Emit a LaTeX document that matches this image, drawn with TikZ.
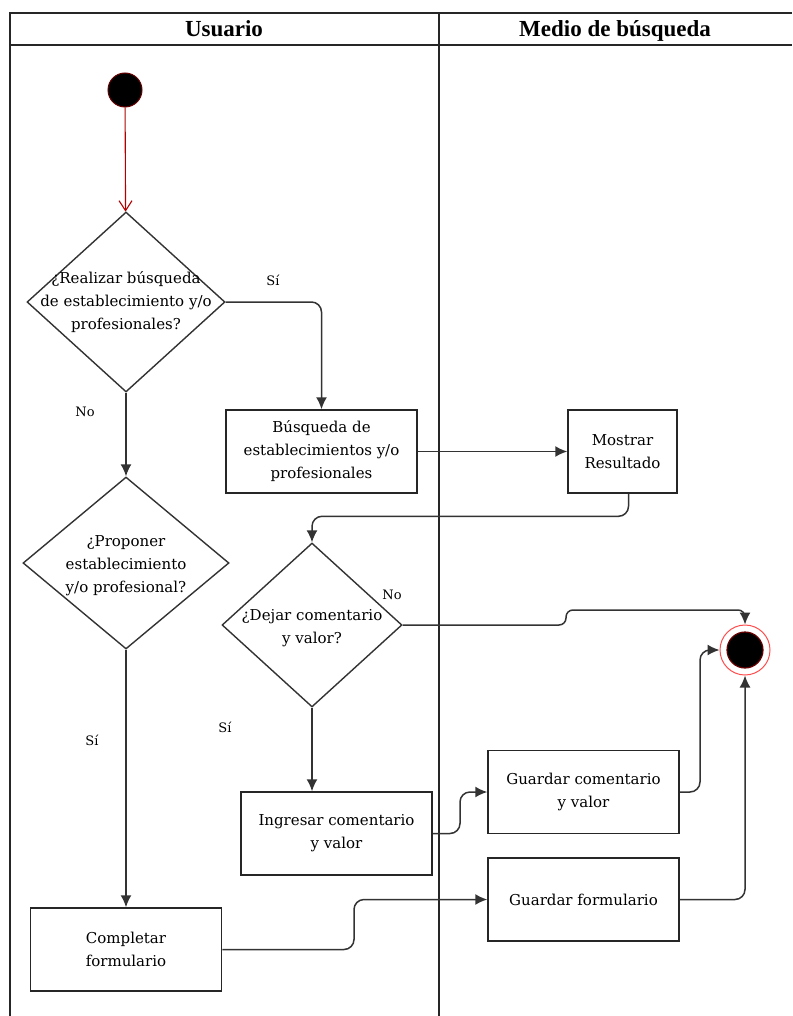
\documentclass[tikz,border=0pt]{standalone}
\usepackage{fontspec}
\setmainfont{DejaVu Serif}
\newfontfamily\headfont{Liberation Serif}
\usetikzlibrary{shapes.geometric,arrows.meta,calc}
\begin{document}
\begin{tikzpicture}[x=1pt,y=-1pt,
  lane/.style={line width=1.5pt,black!85},
  lanehead/.style={anchor=base,font=\headfont\bfseries\fontsize{23}{27}\selectfont},
  act/.style={draw=black!85,line width=1.5pt,rectangle,minimum width=191pt,minimum height=83pt,align=center,inner sep=2pt,font=\fontsize{15}{23}\selectfont},
  decision/.style={draw=black!80,line width=1.4pt,diamond,inner sep=0pt},
  qtext/.style={align=center,inner sep=0pt,font=\fontsize{15}{23}\selectfont},
  guard/.style={font=\fontsize{13}{15}\selectfont},
  flow/.style={draw=black!80,line width=1.5pt,rounded corners=10pt,-{Latex[length=12pt,width=11pt]}},
  startflow/.style={draw=red!70!black,line width=1.1pt,-{Straight Barb[length=10pt,width=13pt]}}
]
\useasboundingbox (0,0) rectangle (792,1016);
% lanes
\draw[lane] (792,13) -- (10,13) -- (10,1016);
\draw[lane] (10,45) -- (792,45);
\draw[lane] (439,13) -- (439,1016);
\node[lanehead] (usr) at (224,37) {Usuario};
\node[lanehead] (med) at (615,37) {Medio de búsqueda};
% start and end
\node[circle,fill=black,draw=red!40!black,line width=1pt,minimum size=34pt,inner sep=0pt] (start) at (125,90) {};
\node[circle,draw=red!70,line width=1pt,minimum size=50pt,inner sep=0pt] (end) at (745,650) {};
\node[circle,fill=black,draw=red!40!black,line width=1.2pt,minimum size=36pt,inner sep=0pt] (endin) at (end) {};
% decisions
\node[decision,minimum width=198pt,minimum height=180pt] (d1) at (126,302) {};
\node[qtext] (d1t) at (d1) {¿Realizar búsqueda\\de establecimiento y/o\\profesionales?};
\node[decision,minimum width=206pt,minimum height=172pt] (d3) at (126,563) {};
\node[qtext] (d3t) at (126,566) {¿Proponer\\establecimiento\\y/o profesional?};
\node[decision,minimum width=180pt,minimum height=164pt] (d2) at (312,625) {};
\node[qtext] (d2t) at (312,628) {¿Dejar comentario\\y valor?};
% activities
\node[act] (b1) at (321.5,451.5) {Búsqueda de\\establecimientos y/o\\profesionales};
\node[act,minimum width=109pt] (b2) at (622.5,451.5) {Mostrar\\Resultado};
\node[act] (b3) at (336.5,833.5) {Ingresar comentario\\y valor};
\node[act] (b4) at (583.5,792) {Guardar comentario\\y valor};
\node[act] (b5) at (126,949.5) {Completar\\formulario};
\node[act] (b6) at (583.5,899.5) {Guardar formulario};
% flows
\draw[startflow] (start) -- (d1);
\draw[flow] (d1.east) -| (b1.north);
\node[guard] (si1) at (273,280) {Sí};
\draw[flow] (d1.south) -- (d3.north);
\node[guard] (no1) at (85,412) {No};
\draw[flow] (b1) -- (b2);
\draw[flow] ([xshift=6pt]b2.south) |- ($(d2.north)+(0,-26)$) -- (d2.north);
\draw[flow,rounded corners=7pt] (d2.east) -- (566,625) -- (566,610) -| (end.north);
\node[guard] (no2) at (392,595) {No};
\draw[flow] (d2.south) -- (d2.south |- b3.north);
\node[guard] (si2) at (225,727) {Sí};
\draw[flow] (b3.east) -- (460,833.5) |- (b4.west);
\draw[flow] (b4.east) -- (700,792) |- (end.west);
\draw[flow] (b6.east) -| (end.south);
\draw[flow] (d3.south) -- (b5.north);
\node[guard] (si3) at (92,740) {Sí};
\draw[flow] (b5.east) -- (354,949.5) |- (b6.west);
\end{tikzpicture}
\end{document}
